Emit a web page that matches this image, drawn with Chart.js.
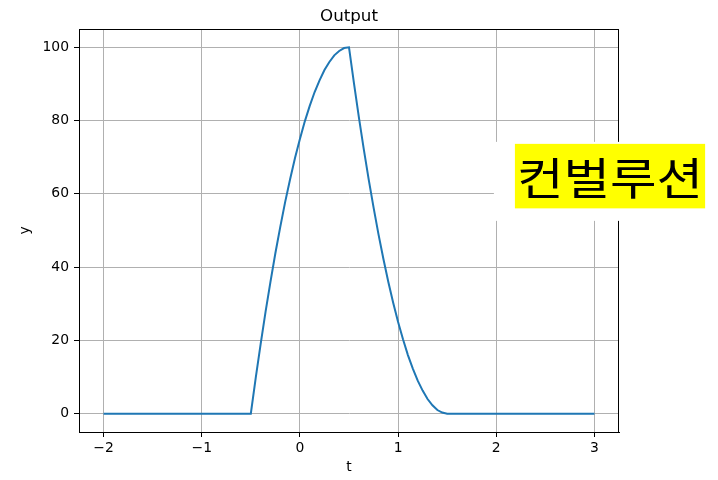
<!DOCTYPE html>
<html>
<head>
<meta charset="utf-8">
<script src="https://cdn.jsdelivr.net/npm/chart.js@4.4.1/dist/chart.umd.min.js"></script>
<style>
  html, body { margin: 0; padding: 0; background: #fff; }
  #wrap { width: 718px; height: 480px; }
</style>
</head>
<body>
<div id="wrap"><canvas id="c" width="718" height="480"></canvas></div>
<script>
// Sample times and output values of the convolution
const t = [
  -2.0, -0.5, -0.45, -0.4, -0.35, -0.3, -0.25, -0.2, -0.15, -0.1, -0.05,
  0.0, 0.05, 0.1, 0.15, 0.2, 0.25, 0.3, 0.35, 0.4, 0.45, 0.5,
  0.55, 0.6, 0.65, 0.7, 0.75, 0.8, 0.85, 0.9, 0.95, 1.0,
  1.05, 1.1, 1.15, 1.2, 1.25, 1.3, 1.35, 1.4, 1.45, 1.5, 3.0
];
const y = [
  0, 0, 9.8, 19, 27.8, 36, 43.8, 51, 57.8, 64, 69.8,
  75, 79.8, 84, 87.8, 91, 93.8, 96, 97.8, 99, 99.8, 100,
  90.3, 81, 72.3, 64, 56.3, 49, 42.3, 36, 30.3, 25,
  20.3, 16, 12.3, 9, 6.3, 4, 2.3, 1, 0.3, 0, 0
];

// Axis ticks
const xTicks = [-2, -1, 0, 1, 2, 3];
const yTicks = [0, 20, 40, 60, 80, 100];

// Text labels
const titleText = 'Output';
const xLabel = 't';
const yLabel = 'y';
const noteText = '컨벌루션';
const notePos = { x: 2.2, y: 60 };

const points = t.map((v, i) => ({ x: v, y: y[i] }));
const tickFont = { family: 'DejaVu Sans', size: 13.9 };
const minus = v => (v < 0 ? '\u2212' + Math.abs(v) : String(v));

// Title centred over the plot, frame around the plotting area, highlighted note
const framePlugin = {
  id: 'frameAndNote',
  afterDraw(chart) {
    const { ctx, chartArea: a, scales } = chart;
    ctx.save();
    ctx.strokeStyle = '#000';
    ctx.lineWidth = 1;
    ctx.strokeRect(a.left + 0.5, a.top + 0.5, a.right - a.left - 1, a.bottom - a.top);

    ctx.fillStyle = '#000';
    ctx.font = '16.7px "DejaVu Sans"';
    ctx.textAlign = 'center';
    ctx.textBaseline = 'alphabetic';
    ctx.fillText(titleText, (a.left + a.right) / 2, a.top - 8.5);

    const px = scales.x.getPixelForValue(notePos.x);
    const base = scales.y.getPixelForValue(notePos.y);
    const stretch = 1.15;
    ctx.font = '400 44px "Noto Sans CJK KR"';
    const w = ctx.measureText(noteText).width * stretch;

    // white backdrop
    ctx.fillStyle = '#fff';
    ctx.fillRect(px - 22, base - 52, chart.width - (px - 22), 79);
    // yellow box
    ctx.fillStyle = '#ffff00';
    ctx.fillRect(px - 1, base - 50, w + 4, 64.5);
    // text, widened slightly
    ctx.fillStyle = '#000';
    ctx.textAlign = 'left';
    ctx.translate(px + 1, base + 1);
    ctx.scale(stretch, 1);
    ctx.fillText(noteText, 0, 0);
    ctx.restore();
  }
};

new Chart(document.getElementById('c'), {
  type: 'line',
  data: {
    datasets: [{
      data: points,
      borderColor: '#1f77b4',
      borderWidth: 2,
      pointRadius: 0,
      fill: false,
      tension: 0
    }]
  },
  options: {
    responsive: false,
    animation: false,
    devicePixelRatio: 1,
    layout: { padding: { left: 0, right: 99, top: 29, bottom: 0 } },
    plugins: {
      legend: { display: false },
      tooltip: { enabled: false },
      title: { display: false }
    },
    scales: {
      x: {
        type: 'linear',
        min: -2.25,
        max: 3.25,
        afterBuildTicks: s => { s.ticks = xTicks.map(v => ({ value: v })); },
        afterFit: s => { s.height = 48; },
        ticks: { color: '#000', font: tickFont, padding: 3, maxRotation: 0, callback: minus },
        grid: { color: '#b0b0b0', lineWidth: 1, tickColor: '#000', tickLength: 5, tickWidth: 1 },
        border: { display: true, color: '#000', width: 1 },
        title: { display: true, text: xLabel, color: '#000', font: tickFont, padding: { top: 0, bottom: 4 } }
      },
      y: {
        type: 'linear',
        min: -5,
        max: 105,
        afterBuildTicks: s => { s.ticks = yTicks.map(v => ({ value: v })); },
        afterFit: s => { s.width = 79; },
        ticks: { color: '#000', font: tickFont, padding: 5, callback: minus },
        grid: { color: '#b0b0b0', lineWidth: 1, tickColor: '#000', tickLength: 5, tickWidth: 1 },
        border: { display: true, color: '#000', width: 1 },
        title: { display: true, text: yLabel, color: '#000', font: tickFont, padding: { top: 17, bottom: 0 } }
      }
    }
  },
  plugins: [framePlugin]
});
</script>
</body>
</html>
